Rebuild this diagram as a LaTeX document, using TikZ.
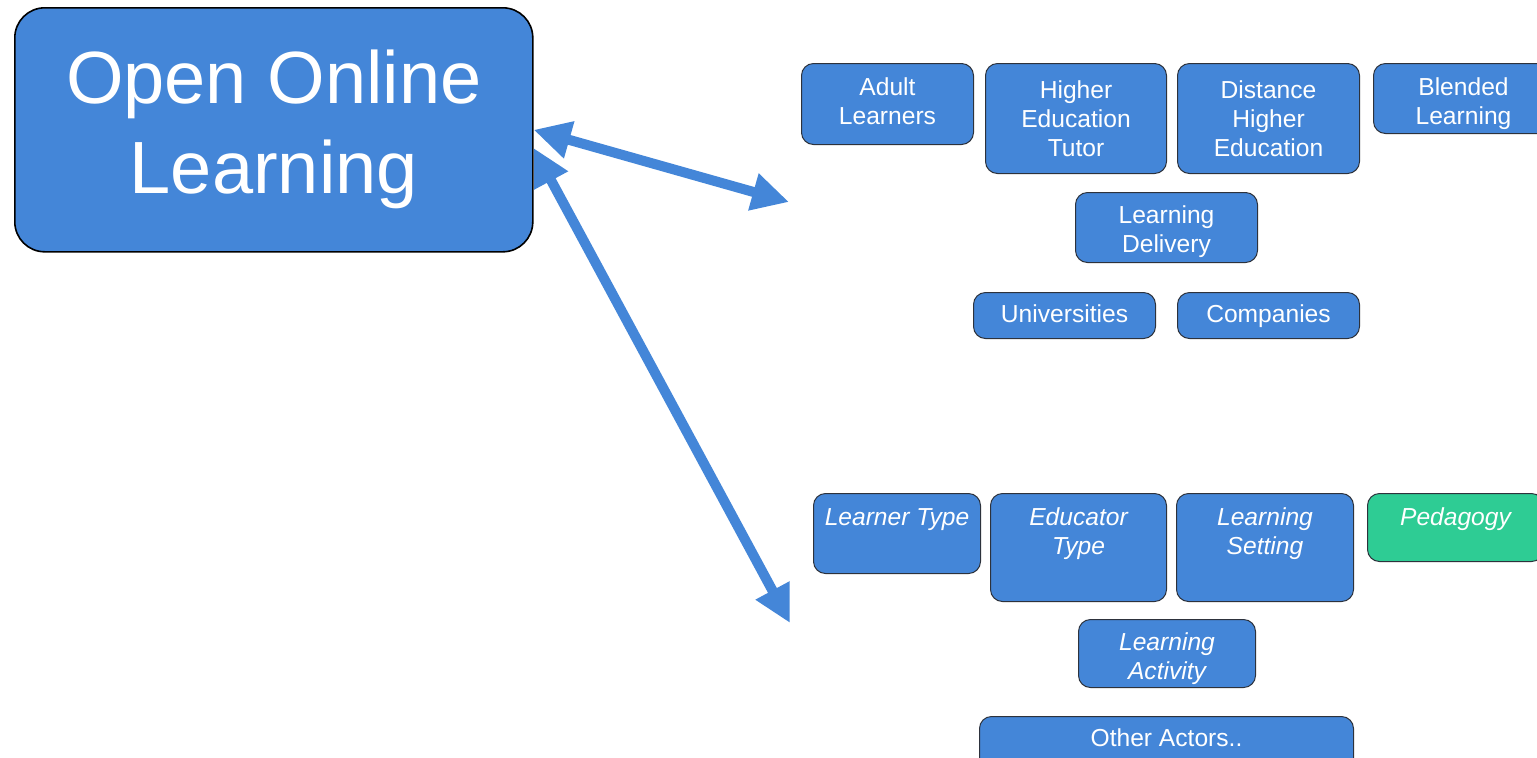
\documentclass[tikz,border=0pt]{standalone}
\usepackage{fontspec}
\setmainfont{Liberation Sans}
\usetikzlibrary{arrows.meta}
\definecolor{boxblue}{RGB}{68,134,216}
\definecolor{arrowblue}{RGB}{68,134,216}
\definecolor{boxgreen}{RGB}{46,204,148}
\definecolor{boxedge}{RGB}{45,50,60}
\newcommand\mytopbox[4][16pt]{\parbox[c][#3][t]{#2}{\centering\rule{0pt}{#1}#4}}
\tikzset{
  rbox/.style={draw=boxedge, fill=boxblue, rounded corners=6pt, line width=0.5pt,
    text=white, font=\fontsize{12.3}{14.5}\selectfont, align=center, inner sep=0pt,
    anchor=north west},
  ibox/.style={rbox, font=\fontsize{12.3}{14.5}\selectfont\itshape},
  mainbox/.style={draw=black, fill=boxblue, rounded corners=15pt, line width=0.8pt,
    text=white, font=\fontsize{37}{45}\selectfont, align=center, inner sep=0pt,
    minimum width=259pt, minimum height=122pt, anchor=north west},
  bigarrow/.style={draw=arrowblue, line width=5pt,
    {Triangle[length=18.5pt,width=18pt]}-{Triangle[length=18.5pt,width=18pt]}}
}
\begin{document}
\begin{tikzpicture}[x=0.5pt,y=-0.5pt]
\clip (0,0) rectangle (1537,757);
\fill[white] (0,0) rectangle (1537,757);

\node[mainbox] (main) at (14,7) {Open Online\\Learning};

% upper group
\node[rbox] (adult) at (801,63) {\mytopbox{86pt}{40.5pt}{Adult\\Learners}};
\node[rbox, minimum width=90.5pt, minimum height=55pt] (hetutor) at (985,63) {Higher\\Education\\Tutor};
\node[rbox, minimum width=91pt, minimum height=55pt] (dhe) at (1177,63) {Distance\\Higher\\Education};
\node[rbox] (blended) at (1373,63) {\mytopbox{90pt}{35pt}{Blended\\Learning}};
\node[rbox] (delivery) at (1075,192) {\mytopbox[15.5pt]{91pt}{35pt}{Learning\\Delivery}};
\node[rbox] (univ) at (973,292) {\mytopbox[15pt]{91pt}{23pt}{Universities}};
\node[rbox] (comp) at (1177,292) {\mytopbox[15pt]{91pt}{23pt}{Companies}};

% lower group
\node[ibox] (ltype) at (813,493) {\mytopbox{83.5pt}{40pt}{Learner Type}};
\node[ibox] (etype) at (990,493) {\mytopbox{88pt}{54pt}{Educator\\Type}};
\node[ibox] (lsetting) at (1176,493) {\mytopbox{88.5pt}{54pt}{Learning\\Setting}};
\node[ibox, fill=boxgreen] (peda) at (1367,493) {\mytopbox{88pt}{34pt}{Pedagogy}};
\node[ibox] (lactivity) at (1078,619) {\mytopbox[15.5pt]{88.5pt}{34pt}{Learning\\Activity}};
\node[rbox] (other) at (979,716) {\mytopbox[15pt]{187pt}{30pt}{Other Actors..}};

% connectors
\coordinate (t1) at (789,202);
\coordinate (t2) at (790,623);
\draw[bigarrow] (main.east) -- (t1);
\draw[bigarrow] (main.-4) -- (t2);
\end{tikzpicture}
\end{document}
